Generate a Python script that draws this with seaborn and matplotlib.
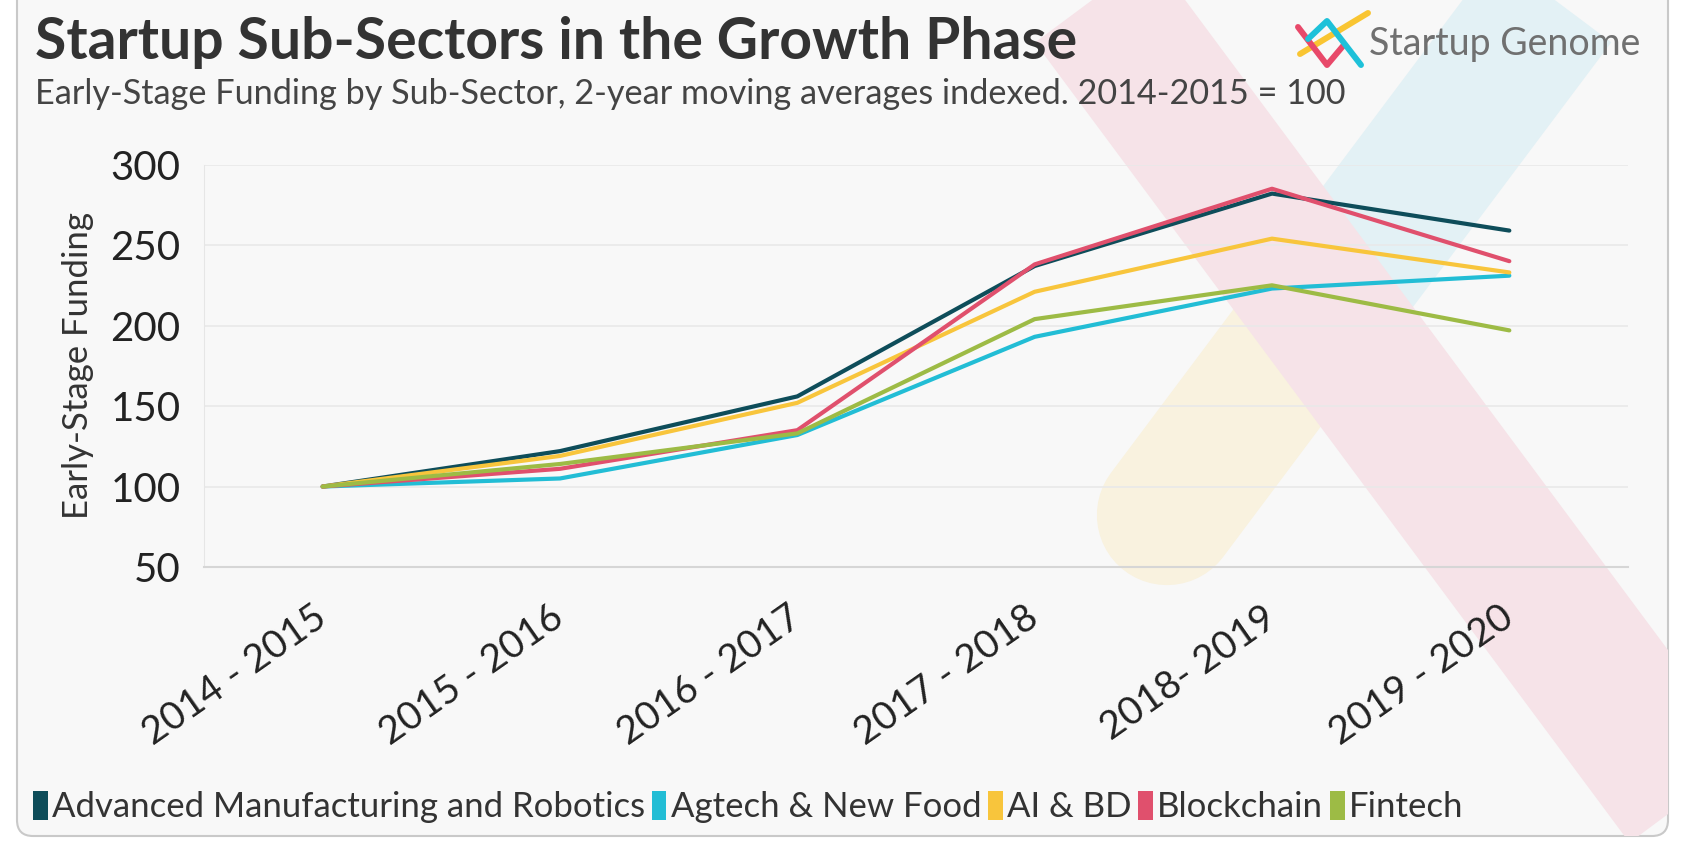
import numpy as np
import pandas as pd
import matplotlib
matplotlib.use("Agg")
import matplotlib.pyplot as plt
import seaborn as sns
from matplotlib.patches import FancyBboxPatch, Patch

# data (index, 2014-2015 = 100)
periods = ["2014 - 2015", "2015 - 2016", "2016 - 2017", "2017 - 2018", "2018- 2019", "2019 - 2020"]
adv_manufacturing = [100, 122, 156, 237, 282, 259]
agtech = [100, 105, 132, 193, 223, 231]
ai_bd = [100, 119, 152, 221, 254, 233]
blockchain = [100, 111, 135, 238, 285, 240]
fintech = [100, 114, 133, 204, 225, 197]

sectors = ["Advanced Manufacturing and Robotics", "Agtech & New Food", "AI & BD", "Blockchain", "Fintech"]
colors = ["#0e4d5a", "#22bdd5", "#f8c53c", "#e0506d", "#9dbb45"]

df = pd.DataFrame({
    "Period": periods * len(sectors),
    "Funding": adv_manufacturing + agtech + ai_bd + blockchain + fintech,
    "Sector": np.repeat(sectors, len(periods)),
})

sns.set_style("white")
plt.rcParams["font.family"] = ["Lato", "DejaVu Sans"]

W, H = 1687, 842
fig = plt.figure(figsize=(W / 100, H / 100), dpi=100, facecolor="white")

# background layer in pixel coordinates (y grows downward)
bg = fig.add_axes([0, 0, 1, 1], zorder=0)
bg.set_xlim(0, W)
bg.set_ylim(H, 0)
bg.axis("off")

card = FancyBboxPatch((17, -60), 1651, 896, boxstyle="round,pad=0,rounding_size=16",
                      facecolor="#f8f8f8", edgecolor="#c9c9c9", lw=1.5)
bg.add_patch(card)

# faint logo watermark
wm = [
    bg.plot([1167, 1328], [515, 300], color="#f9f2df", lw=101, solid_capstyle="round")[0],
    bg.plot([1328, 1800], [300, -330], color="#e3f1f5", lw=104, solid_capstyle="butt")[0],
    bg.plot([1020, 1800], [-100, 950], color="#f6e3e8", lw=105, solid_capstyle="butt")[0],
]
for ln in wm:
    ln.set_clip_path(card)

# titles and brand
bg.text(35, 59, "Startup Sub-Sectors in the Growth Phase", fontsize=41, fontweight="bold",
        color="#333333", va="baseline", ha="left")
bg.text(35, 104, "Early-Stage Funding by Sub-Sector, 2-year moving averages indexed. 2014-2015 = 100",
        fontsize=24.7, color="#444444", va="baseline", ha="left")
bg.plot([1300, 1368], [54, 13], color="#f9c532", lw=4.3, solid_capstyle="round")
bg.plot([1298, 1327, 1343], [27, 65, 46], color="#e8496a", lw=4.3, solid_capstyle="round")
bg.plot([1308, 1327, 1361], [39, 21, 65], color="#1ec1d9", lw=4.3, solid_capstyle="round")
bg.text(1369, 55, "Startup Genome", fontsize=27, color="#707070",
        va="baseline", ha="left")

# main chart
ax = fig.add_axes([204 / W, 1 - 567 / H, (1628 - 204) / W, (567 - 164.6) / H], zorder=1)
ax.set_facecolor("none")
sns.lineplot(data=df, x="Period", y="Funding", hue="Sector", palette=dict(zip(sectors, colors)),
             lw=3, sort=False, legend=False, ax=ax)

ax.set_xlim(-0.5, len(periods) - 0.5)
ax.set_ylim(50, 300)
ax.set_yticks(range(50, 301, 50))
ax.yaxis.grid(True, color="#e9e9e9", lw=1.2)
ax.xaxis.grid(False)
for s in ["top", "right"]:
    ax.spines[s].set_visible(False)
ax.spines["left"].set_color("#e6e6e6")
ax.spines["bottom"].set_color("#d6d6d6")
ax.spines["bottom"].set_linewidth(1.5)

ax.set_xlabel("")
ax.set_ylabel("Early-Stage Funding", fontsize=25, color="#333333", labelpad=12)
ax.tick_params(axis="x", length=9, width=1.2, color="#cccccc", pad=25, labelsize=28, labelcolor="#222222")
ax.tick_params(axis="y", length=0, pad=17, labelsize=29, labelcolor="#222222")
plt.setp(ax.get_xticklabels(), rotation=35, ha="right", va="center", rotation_mode="anchor")

handles = [Patch(facecolor=c, edgecolor="none") for c in colors]
fig.legend(handles, sectors, loc="center left", bbox_to_anchor=(33 / W, 1 - 807 / H), ncol=5,
           frameon=False, fontsize=25, handlelength=0.42, handleheight=0.95, handletextpad=0.12,
           columnspacing=0.2, borderpad=0, borderaxespad=0, labelcolor="#333333")

fig.savefig("out.png", dpi=100, facecolor="white")
